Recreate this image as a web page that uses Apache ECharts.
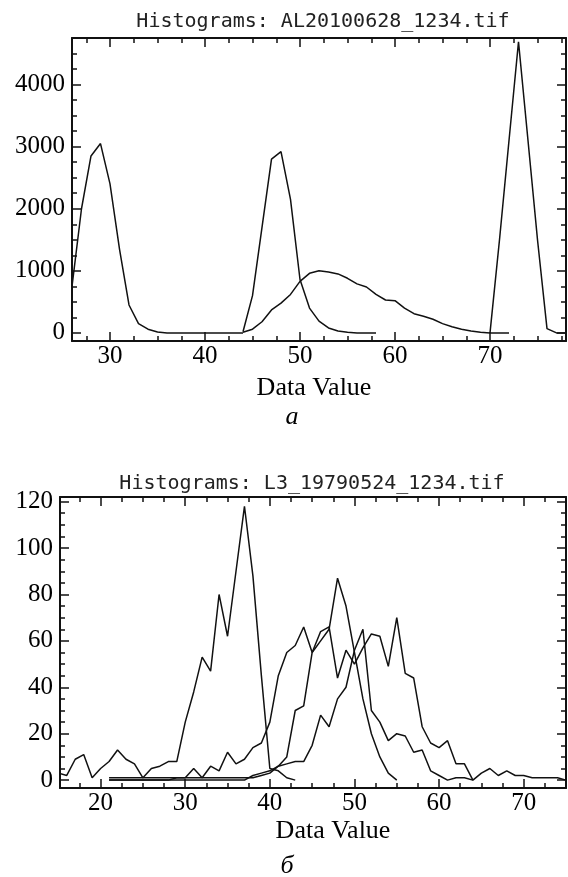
<!DOCTYPE html>
<html>
<head>
<meta charset="utf-8">
<script src="https://cdn.jsdelivr.net/npm/echarts@6/dist/echarts.min.js"></script>
<style>
html, body { margin: 0; padding: 0; background: #fff; }
#chart { width: 568px; height: 877px; }
</style>
</head>
<body>
<div id="chart"></div>
<script>
// chart a: histograms AL20100628 (bin start + counts per integer bin)
const aStart1 = 26
const aCounts1 = [750, 2000, 2850, 3050, 2400, 1350, 450, 150, 60, 15, 0, 0, 0, 0, 0, 0, 0, 0, 0]
const aStart2 = 44
const aCounts2 = [20, 600, 1700, 2800, 2920, 2150, 860, 400, 190, 80, 30, 10, 0, 0, 0]
const aStart3 = 44
const aCounts3 = [10, 60, 180, 370, 480, 620, 830, 960, 1000, 980, 950, 880, 790, 740, 620, 530, 520, 400, 310, 270, 220, 150, 100, 60, 30, 10, 0, 0, 0]
const aStart4 = 70
const aCounts4 = [0, 1500, 3100, 4690, 3100, 1500, 70, 0, 0]

// chart b: histograms L3_19790524
const bStart1 = 15
const bCounts1 = [3, 2, 9, 11, 1, 5, 8, 13, 9, 7, 1, 5, 6, 8, 8, 25, 38, 53, 47, 80, 62, 90, 118, 88, 45, 5, 4, 1, 0]
const bStart2 = 21
const bCounts2 = [1, 1, 1, 1, 1, 1, 1, 1, 1, 1, 1, 1, 1, 1, 1, 1, 1, 1, 2, 3, 6, 10, 30, 32, 55, 60, 65, 87, 75, 55, 35, 20, 10, 3, 0]
const bStart3 = 21
const bCounts3 = [0, 0, 0, 0, 0, 0, 0, 0, 1, 1, 5, 1, 6, 4, 12, 7, 9, 14, 16, 25, 45, 55, 58, 66, 55, 64, 66, 44, 56, 50, 57, 63, 62, 49, 70, 46, 44, 23, 16, 14, 17, 7, 7, 0, 3, 5, 2, 4, 2, 2, 1, 1, 1, 1, 0]
const bStart4 = 21
const bCounts4 = [0, 0, 0, 0, 0, 0, 0, 0, 0, 0, 0, 0, 0, 0, 0, 0, 0, 2, 3, 4, 6, 7, 8, 8, 15, 28, 23, 35, 40, 56, 65, 30, 25, 17, 20, 19, 12, 13, 4, 2, 0, 1, 1, 0]

// ticks
const aXMajor = [30, 40, 50, 60, 70]
const aXMinor = [27.5, 32.5, 35, 37.5, 42.5, 45, 47.5, 52.5, 55, 57.5, 62.5, 65, 67.5, 72.5, 75, 77.5]
const aYMajor = [0, 1000, 2000, 3000, 4000]
const aYMinor = [250, 500, 750, 1250, 1500, 1750, 2250, 2500, 2750, 3250, 3500, 3750, 4250, 4500]
const bXMajor = [20, 30, 40, 50, 60, 70]
const bXMinor = [17.5, 22.5, 25, 27.5, 32.5, 35, 37.5, 42.5, 45, 47.5, 52.5, 55, 57.5, 62.5, 65, 67.5, 72.5]
const bYMajor = [0, 20, 40, 60, 80, 100, 120]
const bYMinor = [5, 10, 15, 25, 30, 35, 45, 50, 55, 65, 70, 75, 85, 90, 95, 105, 110, 115]

const aRangeX = [26, 78], aRangeY = [-130, 4750]
const bRangeX = [15.2, 75], bRangeY = [-3.4, 122]

const ink = '#111'
const serif = 'Liberation Serif'

function toPoints(start, counts) {
    return counts.map((c, i) => [start + i, c])
}

// 4 axes per side: major(with line) + minor, on both sides
function makeAxes(gridIndex, range, major, minor, isX) {
    const pos = isX ? ['bottom', 'top'] : ['left', 'right']
    const list = []
    pos.forEach((p, k) => {
        list.push({
            type: 'value', gridIndex: gridIndex, position: p,
            min: range[0], max: range[1],
            axisLine: { show: true, onZero: false, lineStyle: { color: ink, width: 2 } },
            axisTick: { show: true, inside: true, length: 9, customValues: major, lineStyle: { color: ink, width: 1.5 } },
            axisLabel: k === 0 ? {
                show: true, customValues: major, inside: false,
                margin: isX ? 3 : 7,
                color: '#000', fontFamily: serif, fontSize: 25,
                formatter: function (v) { return String(v) }
            } : { show: false },
            splitLine: { show: false }
        })
        list.push({
            type: 'value', gridIndex: gridIndex, position: p,
            min: range[0], max: range[1],
            axisLine: { show: false, onZero: false },
            axisTick: { show: true, inside: true, length: 5, customValues: minor, lineStyle: { color: ink, width: 1.5 } },
            axisLabel: { show: false },
            splitLine: { show: false }
        })
    })
    return list
}

const xAxes = makeAxes(0, aRangeX, aXMajor, aXMinor, true).concat(makeAxes(1, bRangeX, bXMajor, bXMinor, true))
const yAxes = makeAxes(0, aRangeY, aYMajor, aYMinor, false).concat(makeAxes(1, bRangeY, bYMajor, bYMinor, false))

xAxes[0].name = 'Data Value'
xAxes[0].nameLocation = 'middle'
xAxes[0].nameGap = 34
xAxes[0].nameTextStyle = { color: '#000', fontFamily: serif, fontSize: 26, padding: [0, 10, 0, 0] }
xAxes[4].name = 'Data Value'
xAxes[4].nameLocation = 'middle'
xAxes[4].nameGap = 30
xAxes[4].nameTextStyle = { color: '#000', fontFamily: serif, fontSize: 26, padding: [0, 0, 0, 40] }

function lineSeries(data, axisIndex) {
    return {
        type: 'line', data: data, xAxisIndex: axisIndex, yAxisIndex: axisIndex,
        showSymbol: false, symbol: 'none', clip: true, animation: false,
        lineStyle: { color: ink, width: 1.5 }
    }
}

const series = [
    lineSeries(toPoints(aStart1, aCounts1), 0),
    lineSeries(toPoints(aStart2, aCounts2), 0),
    lineSeries(toPoints(aStart3, aCounts3), 0),
    lineSeries(toPoints(aStart4, aCounts4), 0),
    lineSeries(toPoints(bStart1, bCounts1), 4),
    lineSeries(toPoints(bStart2, bCounts2), 4),
    lineSeries(toPoints(bStart3, bCounts3), 4),
    lineSeries(toPoints(bStart4, bCounts4), 4)
]

const chart = echarts.init(document.getElementById('chart'), null, { renderer: 'canvas' })
chart.setOption({
    animation: false,
    backgroundColor: '#fff',
    grid: [
        { left: 72, top: 38, width: 494, height: 303, outerBoundsMode: 'none' },
        { left: 60, top: 497, width: 506, height: 291, outerBoundsMode: 'none' }
    ],
    xAxis: xAxes,
    yAxis: yAxes,
    series: series,
    graphic: [
        { type: 'text', x: 323, y: 22, style: { text: 'Histograms: AL20100628_1234.tif', fontFamily: 'DejaVu Sans Mono', fontSize: 20, fill: '#222', align: 'center', verticalAlign: 'middle' } },
        { type: 'text', x: 312, y: 484, style: { text: 'Histograms: L3_19790524_1234.tif', fontFamily: 'DejaVu Sans Mono', fontSize: 20, fill: '#222', align: 'center', verticalAlign: 'middle' } },
        { type: 'text', x: 292, y: 417, style: { text: 'a', fontFamily: serif, fontStyle: 'italic', fontSize: 26, fill: '#000', align: 'center', verticalAlign: 'middle' } },
        { type: 'text', x: 287, y: 866, style: { text: 'б', fontFamily: serif, fontStyle: 'italic', fontSize: 26, fill: '#000', align: 'center', verticalAlign: 'middle' } }
    ]
})
</script>
</body>
</html>
